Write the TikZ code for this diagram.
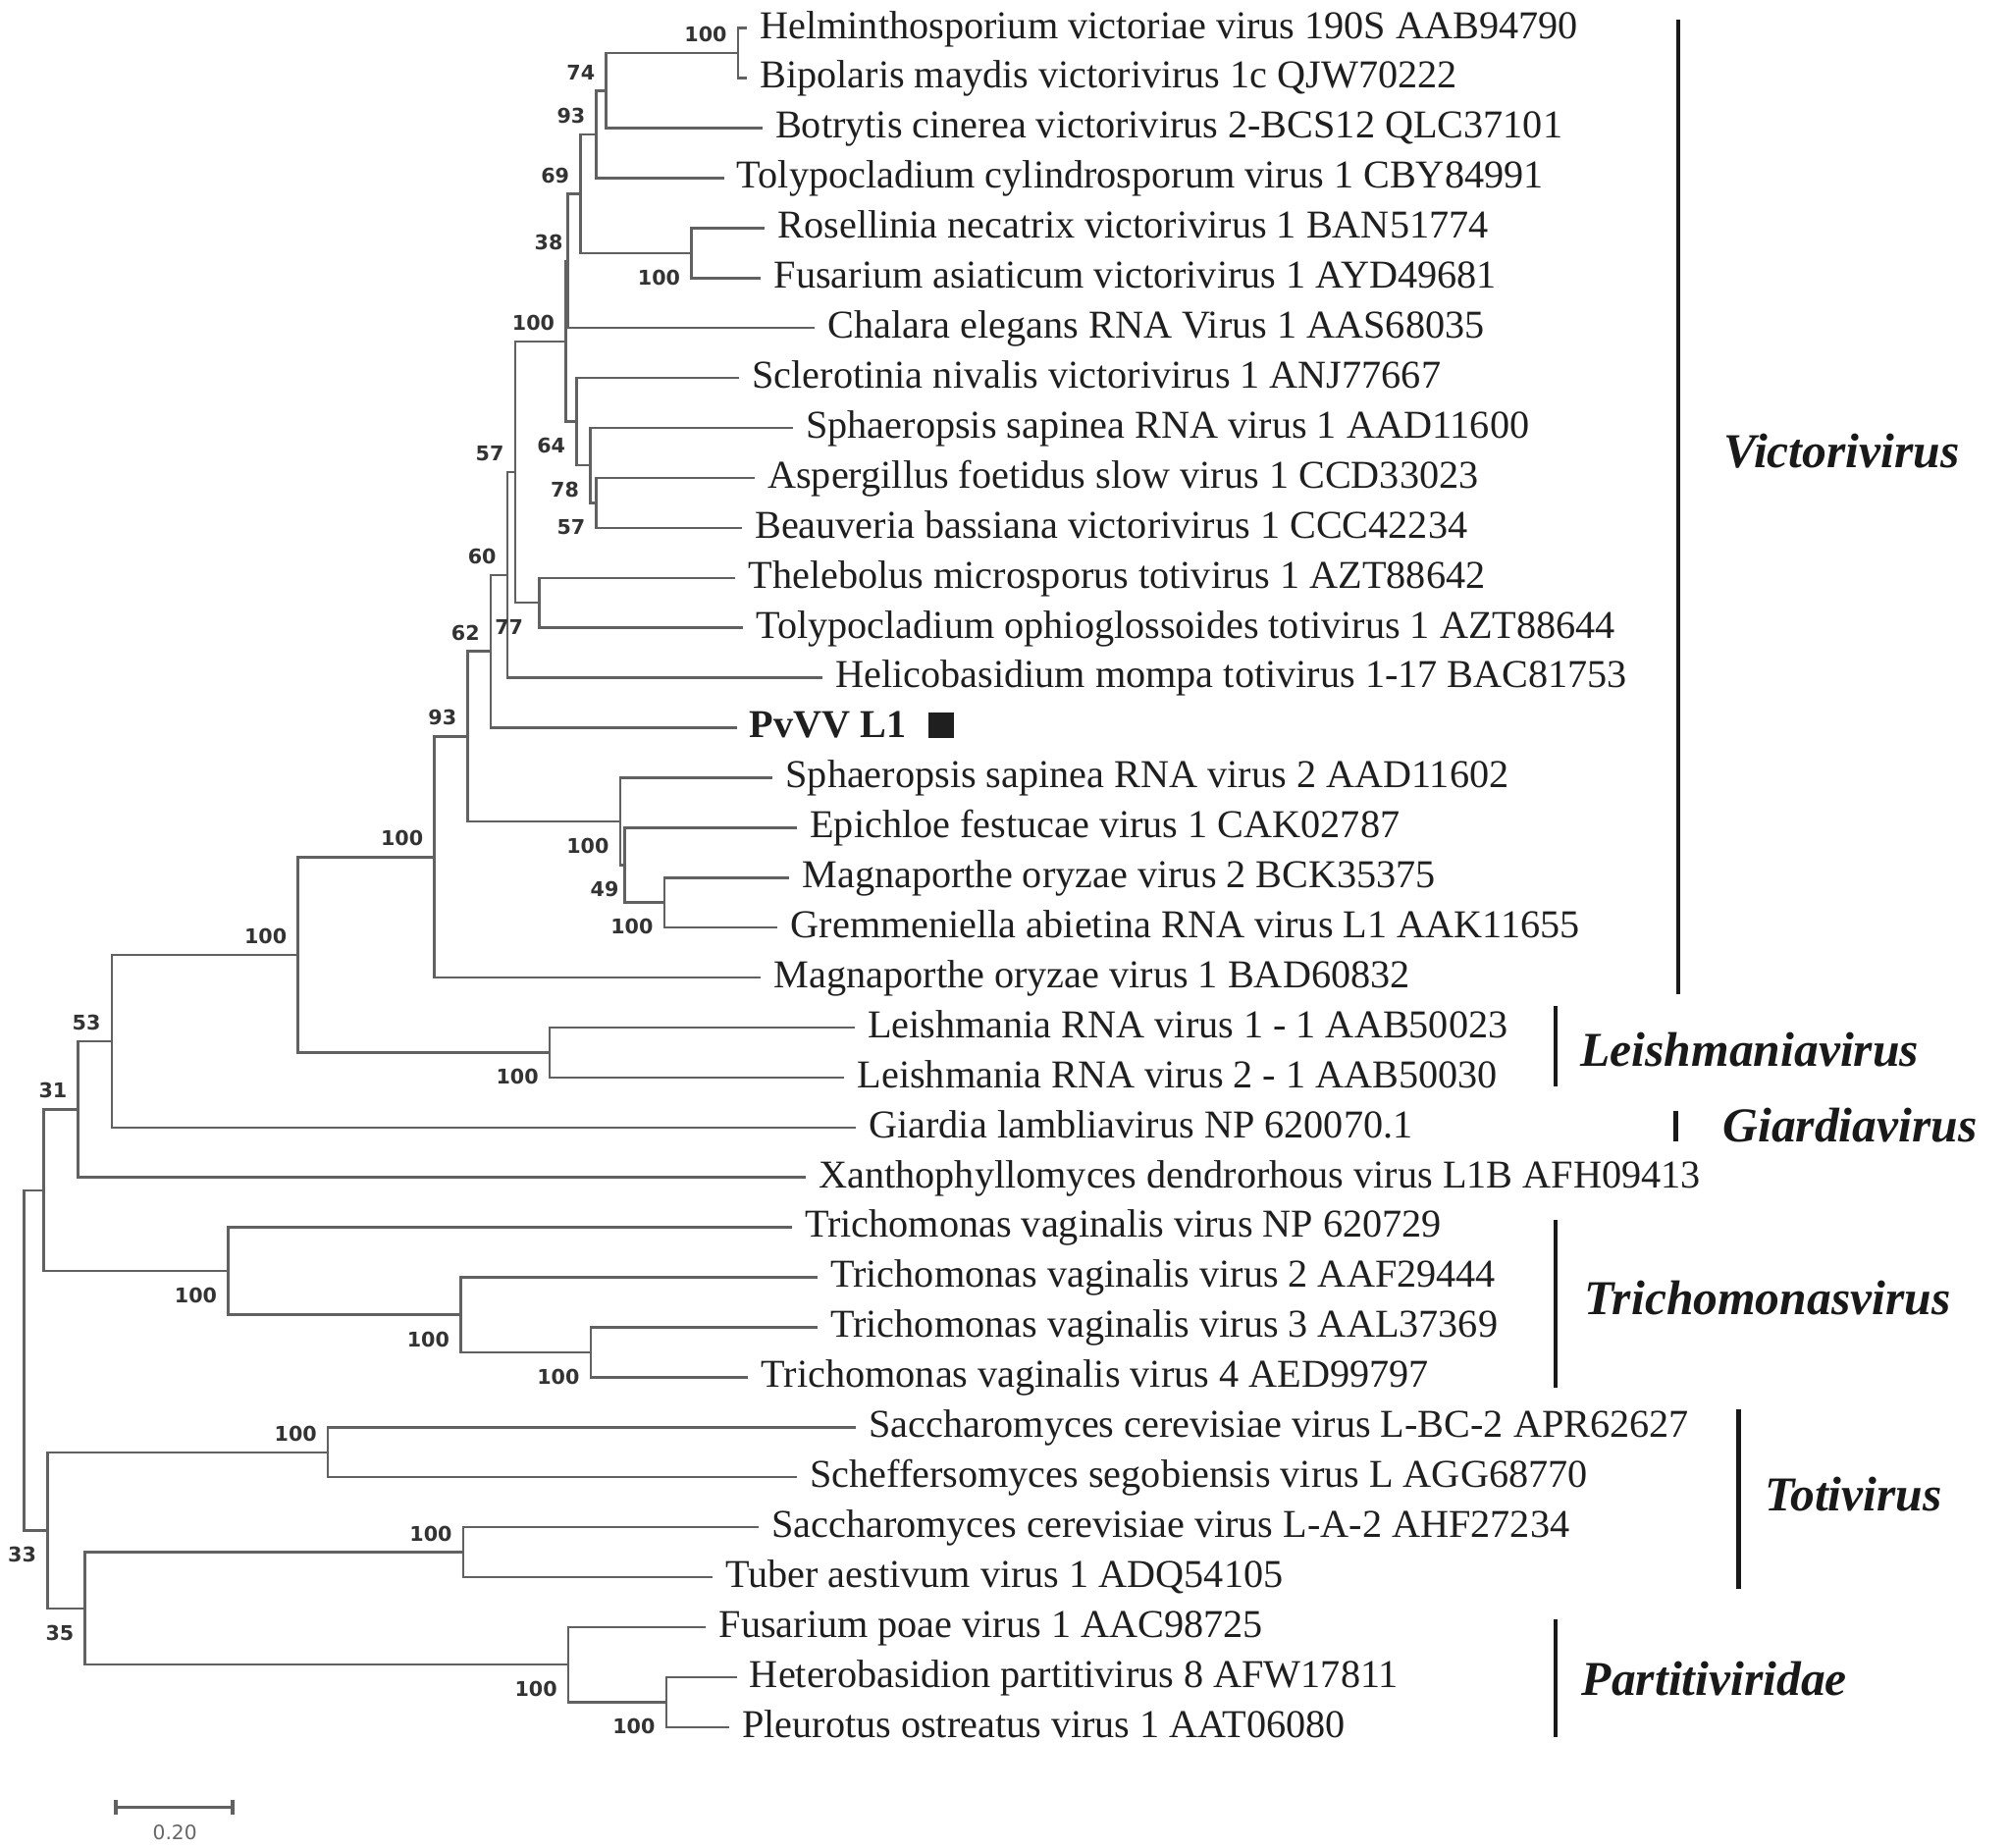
\documentclass[tikz,border=0pt]{standalone}
\usepackage{fontspec}
\setmainfont{Liberation Serif}
\newfontfamily\numfont{DejaVu Sans}
\usepackage{tikz}
\usetikzlibrary{positioning}

\tikzset{
  branch/.style={draw=black!62, line width=0.55pt},
  taxon/.style={anchor=west, inner xsep=0.095cm, inner ysep=0pt, text=black!88,
    font=\fontsize{8.76pt}{10pt}\selectfont, text height=6pt, text depth=1.5pt},
  boot/.style={inner sep=0pt, text=black!80, font=\numfont\bfseries\fontsize{4.5pt}{5pt}\selectfont},
  cladebar/.style={draw=black!90, line width=1pt},
  clade/.style={anchor=west, inner sep=0pt, text=black!90,
    font=\fontsize{10.8pt}{12pt}\selectfont\bfseries\itshape},
}

\begin{document}
\begin{tikzpicture}[x=0.01cm, y=-0.01cm]
\useasboundingbox (0,0) rectangle (1568,1442);

% tips
\node[taxon] at (583,22) (tip0) {Helminthosporium victoriae virus 190S AAB94790} ;
\node[taxon] at (583,61) (tip1) {Bipolaris maydis victorivirus 1c QJW70222} ;
\node[taxon] at (595,100) (tip2) {Botrytis cinerea victorivirus 2-BCS12 QLC37101} ;
\node[taxon] at (565,139) (tip3) {Tolypocladium cylindrosporum virus 1 CBY84991} ;
\node[taxon] at (597,178) (tip4) {Rosellinia necatrix victorivirus 1 BAN51774} ;
\node[taxon] at (594,217) (tip5) {Fusarium asiaticum victorivirus 1 AYD49681} ;
\node[taxon] at (636,256) (tip6) {Chalara elegans RNA Virus 1 AAS68035} ;
\node[taxon] at (577,295) (tip7) {Sclerotinia nivalis victorivirus 1 ANJ77667} ;
\node[taxon] at (619,334) (tip8) {Sphaeropsis sapinea RNA virus 1 AAD11600} ;
\node[taxon] at (589,373) (tip9) {Aspergillus foetidus slow virus 1 CCD33023} ;
\node[taxon] at (579,412) (tip10) {Beauveria bassiana victorivirus 1 CCC42234} ;
\node[taxon] at (574,451) (tip11) {Thelebolus microsporus totivirus 1 AZT88642} ;
\node[taxon] at (580,490) (tip12) {Tolypocladium ophioglossoides totivirus 1 AZT88644} ;
\node[taxon] at (642,529) (tip13) {Helicobasidium mompa totivirus 1-17 BAC81753} ;
\node[taxon] at (575,568) (tip14) {\bfseries PvVV L1\hspace{0.17cm}\rule{0.2cm}{0.2cm}} ;
\node[taxon] at (603,607) (tip15) {Sphaeropsis sapinea RNA virus 2 AAD11602} ;
\node[taxon] at (622,646) (tip16) {Epichloe festucae virus 1 CAK02787} ;
\node[taxon] at (616,685) (tip17) {Magnaporthe oryzae virus 2 BCK35375} ;
\node[taxon] at (607,724) (tip18) {Gremmeniella abietina RNA virus L1 AAK11655} ;
\node[taxon] at (594,763) (tip19) {Magnaporthe oryzae virus 1 BAD60832} ;
\node[taxon] at (667,802) (tip20) {Leishmania RNA virus 1 - 1 AAB50023} ;
\node[taxon] at (659,841) (tip21) {Leishmania RNA virus 2 - 1 AAB50030} ;
\node[taxon] at (668,880) (tip22) {Giardia lambliavirus NP 620070.1} ;
\node[taxon] at (629,919) (tip23) {Xanthophyllomyces dendrorhous virus L1B AFH09413} ;
\node[taxon] at (618,958) (tip24) {Trichomonas vaginalis virus NP 620729} ;
\node[taxon] at (638,997) (tip25) {Trichomonas vaginalis virus 2 AAF29444} ;
\node[taxon] at (638,1036) (tip26) {Trichomonas vaginalis virus 3 AAL37369} ;
\node[taxon] at (584,1075) (tip27) {Trichomonas vaginalis virus 4 AED99797} ;
\node[taxon] at (668,1114) (tip28) {Saccharomyces cerevisiae virus L-BC-2 APR62627} ;
\node[taxon] at (622,1153) (tip29) {Scheffersomyces segobiensis virus L AGG68770} ;
\node[taxon] at (592,1192) (tip30) {Saccharomyces cerevisiae virus L-A-2 AHF27234} ;
\node[taxon] at (556,1231) (tip31) {Tuber aestivum virus 1 ADQ54105} ;
\node[taxon] at (551,1270) (tip32) {Fusarium poae virus 1 AAC98725} ;
\node[taxon] at (575,1309) (tip33) {Heterobasidion partitivirus 8 AFW17811} ;
\node[taxon] at (569,1348) (tip34) {Pleurotus ostreatus virus 1 AAT06080} ;

% forks
\coordinate (fork1) at (576,41.5) ;
\coordinate (fork2) at (473,70.75) ;
\coordinate (fork3) at (465.5,104.9) ;
\coordinate (fork4) at (539.6,197.5) ;
\coordinate (fork5) at (453,151.2) ;
\coordinate (fork6) at (443,203.6) ;
\coordinate (fork7) at (465.5,392.5) ;
\coordinate (fork8) at (460.6,363.25) ;
\coordinate (fork9) at (450,329.1) ;
\coordinate (fork10) at (441.5,266.4) ;
\coordinate (fork11) at (421,470.5) ;
\coordinate (fork12) at (402,368.4) ;
\coordinate (fork13) at (396,448.7) ;
\coordinate (fork14) at (383,508.4) ;
\coordinate (fork15) at (518.4,704.5) ;
\coordinate (fork16) at (487.6,675.25) ;
\coordinate (fork17) at (484,641.1) ;
\coordinate (fork18) at (365,574.7) ;
\coordinate (fork19) at (339,668.9) ;
\coordinate (fork20) at (429,821.5) ;
\coordinate (fork21) at (232.5,745.2) ;
\coordinate (fork22) at (87.2,812.6) ;
\coordinate (fork23) at (61,865.8) ;
\coordinate (fork24) at (461,1055.5) ;
\coordinate (fork25) at (359.5,1026.25) ;
\coordinate (fork26) at (178,992.1) ;
\coordinate (fork27) at (34.2,929) ;
\coordinate (fork28) at (256,1133.5) ;
\coordinate (fork29) at (361.5,1211.5) ;
\coordinate (fork30) at (520,1328.5) ;
\coordinate (fork31) at (443.6,1299.25) ;
\coordinate (fork32) at (66.4,1255.4) ;
\coordinate (fork33) at (37,1194.5) ;
\coordinate (root) at (18.8,1061.7) ;

% branches
\draw[branch] (fork1) |- (tip0.west) ;
\draw[branch] (fork1) |- (tip1.west) ;
\draw[branch] (fork2) |- (fork1) ;
\draw[branch] (fork2) |- (tip2.west) ;
\draw[branch] (fork3) |- (fork2) ;
\draw[branch] (fork3) |- (tip3.west) ;
\draw[branch] (fork4) |- (tip4.west) ;
\draw[branch] (fork4) |- (tip5.west) ;
\draw[branch] (fork5) |- (fork3) ;
\draw[branch] (fork5) |- (fork4) ;
\draw[branch] (fork6) |- (fork5) ;
\draw[branch] (fork6) |- (tip6.west) ;
\draw[branch] (fork7) |- (tip9.west) ;
\draw[branch] (fork7) |- (tip10.west) ;
\draw[branch] (fork8) |- (tip8.west) ;
\draw[branch] (fork8) |- (fork7) ;
\draw[branch] (fork9) |- (tip7.west) ;
\draw[branch] (fork9) |- (fork8) ;
\draw[branch] (fork10) |- (fork6) ;
\draw[branch] (fork10) |- (fork9) ;
\draw[branch] (fork11) |- (tip11.west) ;
\draw[branch] (fork11) |- (tip12.west) ;
\draw[branch] (fork12) |- (fork10) ;
\draw[branch] (fork12) |- (fork11) ;
\draw[branch] (fork13) |- (fork12) ;
\draw[branch] (fork13) |- (tip13.west) ;
\draw[branch] (fork14) |- (fork13) ;
\draw[branch] (fork14) |- (tip14.west) ;
\draw[branch] (fork15) |- (tip17.west) ;
\draw[branch] (fork15) |- (tip18.west) ;
\draw[branch] (fork16) |- (tip16.west) ;
\draw[branch] (fork16) |- (fork15) ;
\draw[branch] (fork17) |- (tip15.west) ;
\draw[branch] (fork17) |- (fork16) ;
\draw[branch] (fork18) |- (fork14) ;
\draw[branch] (fork18) |- (fork17) ;
\draw[branch] (fork19) |- (fork18) ;
\draw[branch] (fork19) |- (tip19.west) ;
\draw[branch] (fork20) |- (tip20.west) ;
\draw[branch] (fork20) |- (tip21.west) ;
\draw[branch] (fork21) |- (fork19) ;
\draw[branch] (fork21) |- (fork20) ;
\draw[branch] (fork22) |- (fork21) ;
\draw[branch] (fork22) |- (tip22.west) ;
\draw[branch] (fork23) |- (fork22) ;
\draw[branch] (fork23) |- (tip23.west) ;
\draw[branch] (fork24) |- (tip26.west) ;
\draw[branch] (fork24) |- (tip27.west) ;
\draw[branch] (fork25) |- (tip25.west) ;
\draw[branch] (fork25) |- (fork24) ;
\draw[branch] (fork26) |- (tip24.west) ;
\draw[branch] (fork26) |- (fork25) ;
\draw[branch] (fork27) |- (fork23) ;
\draw[branch] (fork27) |- (fork26) ;
\draw[branch] (fork28) |- (tip28.west) ;
\draw[branch] (fork28) |- (tip29.west) ;
\draw[branch] (fork29) |- (tip30.west) ;
\draw[branch] (fork29) |- (tip31.west) ;
\draw[branch] (fork30) |- (tip33.west) ;
\draw[branch] (fork30) |- (tip34.west) ;
\draw[branch] (fork31) |- (tip32.west) ;
\draw[branch] (fork31) |- (fork30) ;
\draw[branch] (fork32) |- (fork29) ;
\draw[branch] (fork32) |- (fork31) ;
\draw[branch] (fork33) |- (fork28) ;
\draw[branch] (fork33) |- (fork32) ;
\draw[branch] (root) |- (fork27) ;
\draw[branch] (root) |- (fork33) ;

% bootstrap values
\node[boot, above left=0.0775cm and 0.08cm of fork1] (bs1) {100} ;
\node[boot, above left=0.0775cm and 0.08cm of fork2] (bs2) {74} ;
\node[boot, above left=0.0775cm and 0.08cm of fork3] (bs3) {93} ;
\node[boot, below left=0.1225cm and 0.08cm of fork4] (bs4) {100} ;
\node[boot, above left=0.0775cm and 0.08cm of fork5] (bs5) {69} ;
\node[boot, above left=0.0775cm and 0.03cm of fork6] (bs6) {38} ;
\node[boot, below left=0.1225cm and 0.08cm of fork7] (bs7) {57} ;
\node[boot, below left=0.1225cm and 0.08cm of fork8] (bs8) {78} ;
\node[boot, below left=0.1225cm and 0.08cm of fork9] (bs9) {64} ;
\node[boot, above left=0.0775cm and 0.08cm of fork10] (bs10) {100} ;
\node[boot, below left=0.1225cm and 0.12cm of fork11] (bs11) {77} ;
\node[boot, above left=0.0775cm and 0.08cm of fork12] (bs12) {57} ;
\node[boot, above left=0.0775cm and 0.08cm of fork13] (bs13) {60} ;
\node[boot, above left=0.0775cm and 0.08cm of fork14] (bs14) {62} ;
\node[boot, below left=0.1225cm and 0.08cm of fork15] (bs15) {100} ;
\node[boot, below left=0.1225cm and 0.04cm of fork16] (bs16) {49} ;
\node[boot, below left=0.1225cm and 0.08cm of fork17] (bs17) {100} ;
\node[boot, above left=0.0775cm and 0.08cm of fork18] (bs18) {93} ;
\node[boot, above left=0.0775cm and 0.08cm of fork19] (bs19) {100} ;
\node[boot, below left=0.1225cm and 0.08cm of fork20] (bs20) {100} ;
\node[boot, above left=0.0775cm and 0.08cm of fork21] (bs21) {100} ;
\node[boot, above left=0.0775cm and 0.08cm of fork22] (bs22) {53} ;
\node[boot, above left=0.0775cm and 0.08cm of fork23] (bs23) {31} ;
\node[boot, below left=0.1225cm and 0.08cm of fork24] (bs24) {100} ;
\node[boot, below left=0.1225cm and 0.08cm of fork25] (bs25) {100} ;
\node[boot, below left=0.1225cm and 0.08cm of fork26] (bs26) {100} ;
\node[boot, above left=0.0775cm and 0.08cm of fork28] (bs28) {100} ;
\node[boot, above left=0.0775cm and 0.08cm of fork29] (bs29) {100} ;
\node[boot, below left=0.1225cm and 0.08cm of fork30] (bs30) {100} ;
\node[boot, below left=0.1225cm and 0.08cm of fork31] (bs31) {100} ;
\node[boot, below left=0.1225cm and 0.08cm of fork32] (bs32) {35} ;
\node[boot, below left=0.1225cm and 0.08cm of fork33] (bs33) {33} ;

% genus bars
\draw[cladebar] (1310,15) -- (1310,776) ;
\draw[cladebar] (1214,785) -- (1214,848) ;
\draw[cladebar] (1308,867) -- (1308,891) ;
\draw[cladebar] (1214,952) -- (1214,1083) ;
\draw[cladebar] (1357,1100) -- (1357,1240) ;
\draw[cladebar] (1214,1264) -- (1214,1356) ;
\node[clade] at (1345,352) (label1) {Victorivirus} ;
\node[clade] at (1233,819) (label2) {Leishmaniavirus} ;
\node[clade] at (1344,878) (label3) {Giardiavirus} ;
\node[clade] at (1236,1013) (label4) {Trichomonasvirus} ;
\node[clade] at (1377,1166) (label5) {Totivirus} ;
\node[clade] at (1234,1310) (label6) {Partitiviridae} ;

% scale
\coordinate (sc1) at (90.6,1410.7) ;
\coordinate (sc2) at (181.7,1410.7) ;
\draw[branch, line width=0.8pt] (sc1) -- (sc2) ;
\draw[branch, line width=0.8pt] ([yshift=0.06cm]sc1) -- ([yshift=-0.06cm]sc1) ;
\draw[branch, line width=0.8pt] ([yshift=0.06cm]sc2) -- ([yshift=-0.06cm]sc2) ;
\node[inner sep=0pt, text=black!60, font=\numfont\fontsize{4.4pt}{5pt}\selectfont] at (136.5,1430) (scale) {0.20} ;
\end{tikzpicture}
\end{document}
